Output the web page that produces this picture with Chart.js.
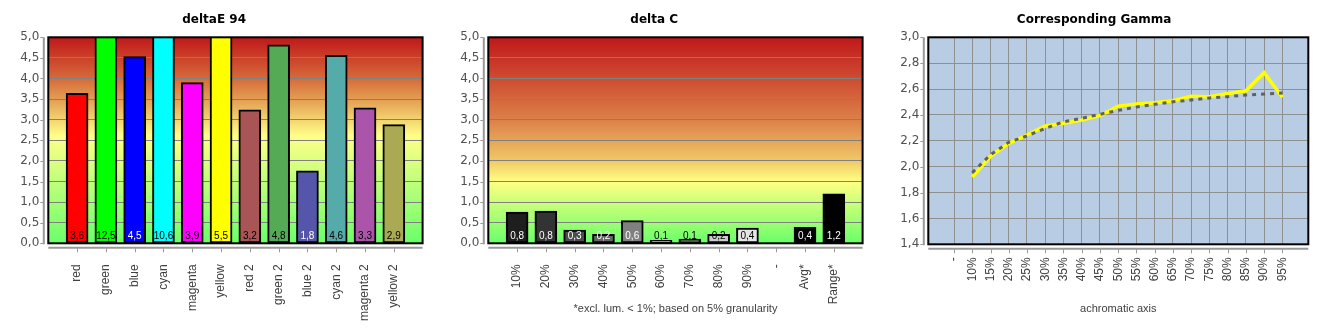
<!DOCTYPE html>
<html><head><meta charset="utf-8">
<script src="https://cdn.jsdelivr.net/npm/chart.js@4.4.1/dist/chart.umd.min.js"></script>
<style>
html,body{margin:0;padding:0;background:#fff;width:1330px;height:330px;overflow:hidden}
.c{position:absolute;top:0;width:450px;height:330px}
</style></head><body>
<div class="c" style="left:0"><canvas id="c1" width="450" height="330"></canvas></div>
<div class="c" style="left:440px"><canvas id="c2" width="450" height="330"></canvas></div>
<div class="c" style="left:880px"><canvas id="c3" width="450" height="330"></canvas></div>
<script>
// ---- deltaE 94 ----
const deltaECategories = ['red','green','blue','cyan','magenta','yellow','red 2','green 2','blue 2','cyan 2','magenta 2','yellow 2'];
const deltaEValues = [3.64, 12.5, 4.53, 10.6, 3.9, 5.5, 3.24, 4.82, 1.76, 4.56, 3.29, 2.88];
const deltaEColors = ['#FF0000','#00FF00','#0000FF','#00FFFF','#FF00FF','#FFFF00','#AA5555','#55AA55','#5555AA','#55AAAA','#AA55AA','#AAAA55'];
const deltaETextColors = ['#000','#000','#fff','#000','#000','#000','#000','#000','#fff','#000','#000','#000'];
// ---- delta C ----
const deltaCCategories = ['10%','20%','30%','40%','50%','60%','70%','80%','90%','-','Avg*','Range*'];
const deltaCValues = [0.76, 0.78, 0.32, 0.22, 0.55, 0.07, 0.1, 0.22, 0.37, null, 0.39, 1.2];
const deltaCColors = ['#1E1E1E','#333333','#4C4C4C','#666666','#808080','#999999','#B2B2B2','#CCCCCC','#E5E5E5','#000000','#000000','#000000'];
const deltaCTextColors = ['#fff','#fff','#fff','#fff','#fff','#000','#000','#000','#000','#000','#fff','#fff'];
const barTickValues = [0,0.5,1,1.5,2,2.5,3,3.5,4,4.5,5];
// ---- Corresponding Gamma ----
const gammaLevels = [10,15,20,25,30,35,40,45,50,55,60,65,70,75,80,85,90,95];
const gammaMeasured = [1.92,2.08,2.18,2.245,2.315,2.335,2.36,2.395,2.468,2.484,2.495,2.51,2.545,2.541,2.566,2.587,2.726,2.536];
const gammaReference = [1.953,2.093,2.188,2.238,2.296,2.347,2.374,2.405,2.435,2.461,2.482,2.502,2.515,2.531,2.541,2.554,2.562,2.569];
const gammaXTicks = [5,10,15,20,25,30,35,40,45,50,55,60,65,70,75,80,85,90,95];
const gammaYTicks = [1.4,1.6,1.8,2.0,2.2,2.4,2.6,2.8,3.0];

const fmt = v => Number(v).toFixed(1).replace('.', ',');

const bgPlugin = {
  id: 'bgPlugin',
  beforeDraw(chart, args, opts) {
    const {ctx, chartArea: a} = chart;
    const ys = chart.scales.y;
    ctx.save();
    if (opts.stops) {
      const g = ctx.createLinearGradient(0, a.top, 0, a.bottom);
      opts.stops.forEach(([v, c]) => {
        const f = (ys.getPixelForValue(v) - a.top) / (a.bottom - a.top);
        g.addColorStop(Math.min(1, Math.max(0, f)), c);
      });
      ctx.fillStyle = g;
    } else {
      ctx.fillStyle = opts.color;
    }
    ctx.fillRect(a.left, a.top, a.right - a.left, a.bottom - a.top);
    ctx.restore();
  }
};

const framePlugin = {
  id: 'framePlugin',
  afterDatasetsDraw(chart, args, opts) {
    const {ctx, chartArea: a} = chart;
    ctx.save();
    // value labels
    if (opts.texts) {
      const meta = chart.getDatasetMeta(0);
      ctx.font = '10px "Liberation Sans", Arial, sans-serif';
      ctx.textAlign = 'center';
      ctx.textBaseline = 'middle';
      meta.data.forEach((el, i) => {
        const v = chart.data.datasets[0].data[i];
        if (v === null || v === undefined) return;
        ctx.fillStyle = opts.texts[i] || '#000';
        ctx.fillText(fmt(v), el.x, a.bottom - 7);
      });
    }
    // frame
    ctx.strokeStyle = '#000';
    ctx.lineWidth = 2;
    ctx.strokeRect(a.left, a.top, a.right - a.left, a.bottom - a.top);
    // detached axis lines
    ctx.strokeStyle = '#999';
    ctx.lineWidth = 2;
    ctx.beginPath();
    ctx.moveTo(a.left, a.bottom + 4.5);
    ctx.lineTo(a.right, a.bottom + 4.5);
    ctx.moveTo(a.left - 4.5, a.top);
    ctx.lineTo(a.left - 4.5, a.bottom + 1);
    ctx.stroke();
    ctx.lineWidth = 1;
    ctx.beginPath();
    const xs = chart.scales.x;
    xs.ticks.forEach((t, i) => {
      if (t.label === '' ) return;
      const x = Math.round(xs.getPixelForTick(i)) + 0.5;
      ctx.moveTo(x, a.bottom + 5);
      ctx.lineTo(x, a.bottom + 9);
    });
    const ys = chart.scales.y;
    ys.ticks.forEach((t, i) => {
      const y = Math.round(ys.getPixelForTick(i)) + 0.5;
      ctx.moveTo(a.left - 5, y);
      ctx.lineTo(a.left - 8, y);
    });
    ctx.stroke();
    ctx.restore();
  }
};

const tickFont = {family: '"DejaVu Sans", Verdana, sans-serif', size: 12};
const catFont = {family: '"Liberation Sans", Arial, sans-serif', size: 12};
const titleCfg = text => ({
  display: true, text, color: '#000',
  font: {family: '"DejaVu Sans", Verdana, sans-serif', size: 12, weight: 'bold'},
  padding: {top: 12.8, bottom: 10.1}
});

function barChart(id, title, cats, vals, colors, texts, stops, footnote) {
  const labels = ['', ...cats, ''];
  const data = [null, ...vals, null];
  const bg = ['transparent', ...colors, 'transparent'];
  const xTitle = footnote ? {
    display: true, text: footnote, color: '#404040',
    font: {family: '"Liberation Sans", Arial, sans-serif', size: 11},
    padding: {top: 0, bottom: 14.4}
  } : {display: false};
  return new Chart(document.getElementById(id), {
    type: 'bar',
    data: {labels, datasets: [{
      data, backgroundColor: bg, borderColor: '#000', borderWidth: 2,
      borderSkipped: false, barThickness: 22, clip: 0
    }]},
    options: {
      responsive: false, animation: false, devicePixelRatio: 1,
      layout: {padding: {left: 0, right: 21.7, top: 0, bottom: 0}},
      plugins: {
        legend: {display: false}, tooltip: {enabled: false},
        title: titleCfg(title),
        bgPlugin: {stops},
        framePlugin: {texts: [null, ...texts, null]}
      },
      scales: {
        x: {
          type: 'category', offset: false,
          grid: {display: false}, border: {display: false},
          ticks: {minRotation: 90, maxRotation: 90, autoSkip: false, font: catFont, color: '#404040', padding: 13},
          title: xTitle,
          afterFit: s => { s.height = 86.7; }
        },
        y: {
          min: 0, max: 5,
          afterBuildTicks: s => { s.ticks = barTickValues.map(v => ({value: v})); },
          grid: {color: '#808080', lineWidth: 1, drawTicks: false},
          border: {display: false},
          ticks: {font: tickFont, color: '#505050', padding: 9, callback: v => fmt(v)},
          afterFit: s => { s.width = 48.3; }
        }
      }
    },
    plugins: [bgPlugin, framePlugin]
  });
}

barChart('c1', 'deltaE 94', deltaECategories, deltaEValues, deltaEColors, deltaETextColors,
  [[5, '#C0181A'], [4.0, '#D66A3A'], [3.4, '#E6A858'], [2.6, '#FFFF88'], [0, '#6AFF6A']], null);

barChart('c2', 'delta C', deltaCCategories, deltaCValues, deltaCColors, deltaCTextColors,
  [[5, '#C0181A'], [3.0, '#DC8048'], [2.0, '#F0C868'], [1.5, '#FFFF82'], [0, '#6AFF6A']],
  '*excl. lum. < 1%; based on 5% granularity');

new Chart(document.getElementById('c3'), {
  type: 'line',
  data: {datasets: [
    {data: gammaLevels.map((x, i) => ({x, y: gammaMeasured[i]})), borderColor: '#FFFF00', borderWidth: 3.5,
     pointRadius: 0, tension: 0, order: 2, clip: 0},
    {data: gammaLevels.map((x, i) => ({x, y: gammaReference[i]})), borderColor: '#606060', borderWidth: 3,
     borderDash: [4, 5], pointRadius: 0, tension: 0, order: 1, clip: 0}
  ]},
  options: {
    responsive: false, animation: false, devicePixelRatio: 1,
    layout: {padding: {left: 0, right: 21.7, top: 0, bottom: 0}},
    plugins: {
      legend: {display: false}, tooltip: {enabled: false},
      title: titleCfg('Corresponding Gamma'),
      bgPlugin: {color: '#B8CCE4'},
      framePlugin: {}
    },
    scales: {
      x: {
        type: 'linear', min: -2.05, max: 102.1,
        afterBuildTicks: s => { s.ticks = gammaXTicks.map(v => ({value: v})); },
        grid: {color: '#909090', lineWidth: 1, drawTicks: false}, border: {display: false},
        ticks: {minRotation: 90, maxRotation: 90, autoSkip: false, font: catFont, color: '#404040', padding: 13,
          callback: v => v === 5 ? '-' : v + '%'},
        title: {display: true, text: 'achromatic axis', color: '#404040',
          font: {family: '"Liberation Sans", Arial, sans-serif', size: 11}, padding: {top: 0, bottom: 14.4}},
        afterFit: s => { s.height = 85.7; }
      },
      y: {
        min: 1.4, max: 3.0,
        afterBuildTicks: s => { s.ticks = gammaYTicks.map(v => ({value: v})); },
        grid: {color: '#909090', lineWidth: 1, drawTicks: false}, border: {display: false},
        ticks: {font: tickFont, color: '#505050', padding: 9, callback: v => fmt(v)},
        afterFit: s => { s.width = 48.3; }
      }
    }
  },
  plugins: [bgPlugin, framePlugin]
});
</script>
</body></html>
